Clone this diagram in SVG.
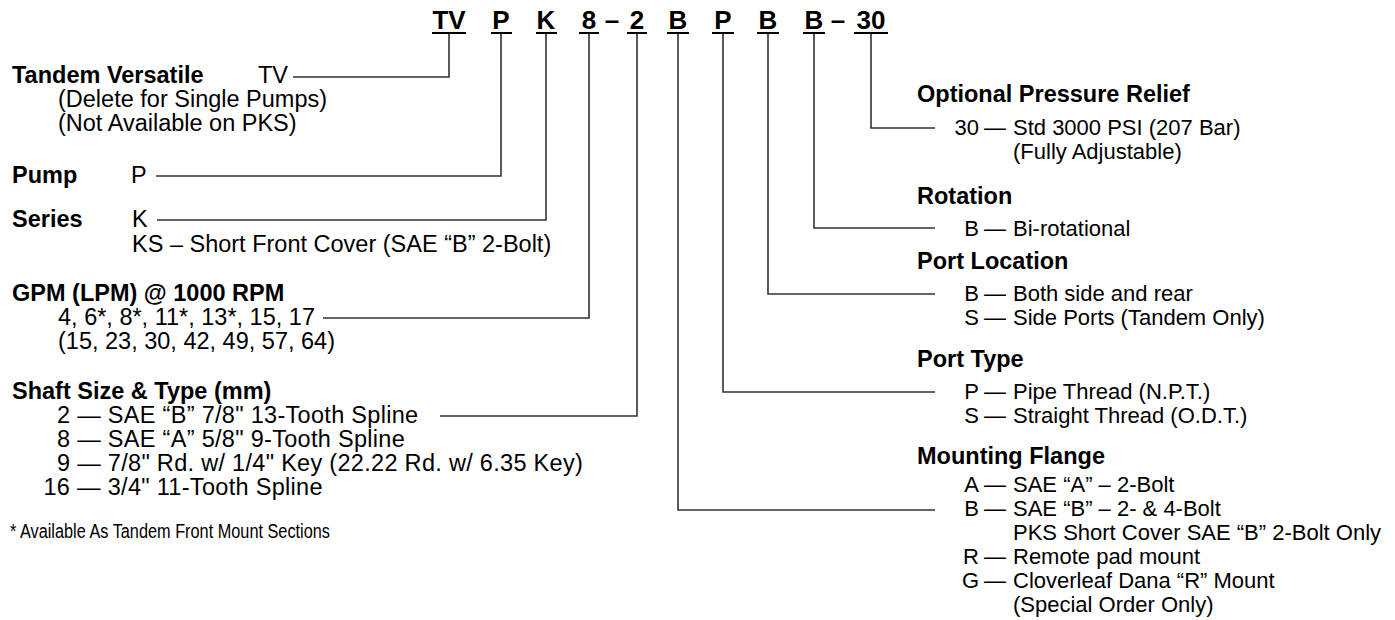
<svg xmlns="http://www.w3.org/2000/svg" width="1395" height="620" viewBox="0 0 1395 620">
<style>
text{font-family:"Liberation Sans",Arial,Helvetica,sans-serif;fill:#000}
.h{font-size:26px;font-weight:bold;text-anchor:middle}
.b{font-size:23.5px;font-weight:bold}
.r{font-size:23.5px}
.s{font-size:23.5px;letter-spacing:0.3px}
.rr{font-size:22px}
.k{font-size:22px;text-anchor:end}
.fn{font-size:20px}
.ul{stroke:#000;stroke-width:2}
.ln{stroke:#333;stroke-width:1.6;fill:none}
</style>
<rect width="1395" height="620" fill="#fff"/>
<g id="code">
<text class="h" x="449" y="29">TV</text>
<text class="h" x="501" y="29">P</text>
<text class="h" x="546" y="29">K</text>
<text class="h" x="589" y="29">8</text>
<text class="h" x="612" y="29">–</text>
<text class="h" x="637" y="29">2</text>
<text class="h" x="678" y="29">B</text>
<text class="h" x="723" y="29">P</text>
<text class="h" x="768" y="29">B</text>
<text class="h" x="814" y="29">B</text>
<text class="h" x="838" y="29">–</text>
<text class="h" x="871" y="29">30</text>
<path class="ul" d="M432 33H466M491 33H512M536 33H557M579 33H599M627 33H647M667 33H689M712 33H734M757 33H779M803 33H825M854 33H888"/>
</g>
<g id="connectors">
<path class="ln" d="M449 34V77H293"/>
<path class="ln" d="M501 34V176H156"/>
<path class="ln" d="M546 34V220H157"/>
<path class="ln" d="M589 34V318H323"/>
<path class="ln" d="M637 34V416H440"/>
<path class="ln" d="M678 34V510H935"/>
<path class="ln" d="M723 34V392H935"/>
<path class="ln" d="M768 34V294H935"/>
<path class="ln" d="M814 34V228H935"/>
<path class="ln" d="M871 34V128H935"/>
</g>
<g id="tandem">
<text class="b" x="12" y="83">Tandem Versatile</text>
<text class="r" x="258" y="83">TV</text>
<text class="r" x="58" y="107">(Delete for Single Pumps)</text>
<text class="r" x="58" y="131">(Not Available on PKS)</text>
</g>
<g id="pump">
<text class="b" x="12" y="183">Pump</text>
<text class="r" x="131" y="183">P</text>
</g>
<g id="series">
<text class="b" x="12" y="227">Series</text>
<text class="r" x="132" y="227">K</text>
<text class="r" x="132" y="252">KS – Short Front Cover (SAE “B” 2-Bolt)</text>
</g>
<g id="gpm">
<text class="b" x="12" y="301">GPM (LPM) @ 1000 RPM</text>
<text class="r" x="58" y="325">4, 6*, 8*, 11*, 13*, 15, 17</text>
<text class="r" x="58" y="349">(15, 23, 30, 42, 49, 57, 64)</text>
</g>
<g id="shaft">
<text class="b" x="12" y="399">Shaft Size &amp; Type (mm)</text>
<text class="s" x="57" y="423">2 — SAE “B” 7/8" 13-Tooth Spline</text>
<text class="s" x="57" y="447">8 — SAE “A” 5/8" 9-Tooth Spline</text>
<text class="s" x="57" y="471">9 — 7/8" Rd. w/ 1/4" Key (22.22 Rd. w/ 6.35 Key)</text>
<text class="s" x="43.5" y="495">16 — 3/4" 11-Tooth Spline</text>
</g>
<g id="footnote">
<text class="fn" x="10" y="538" textLength="320" lengthAdjust="spacingAndGlyphs">* Available As Tandem Front Mount Sections</text>
</g>
<g id="relief">
<text class="b" x="917" y="102">Optional Pressure Relief</text>
<text class="k" x="979" y="135">30</text>
<text class="rr" x="984" y="135">—</text>
<text class="rr" x="1013" y="135">Std 3000 PSI (207 Bar)</text>
<text class="rr" x="1013" y="159">(Fully Adjustable)</text>
</g>
<g id="rotation">
<text class="b" x="917" y="204">Rotation</text>
<text class="k" x="979" y="236">B</text>
<text class="rr" x="984" y="236">—</text>
<text class="rr" x="1013" y="236">Bi-rotational</text>
</g>
<g id="port-location">
<text class="b" x="917" y="269">Port Location</text>
<text class="k" x="979" y="301">B</text>
<text class="rr" x="984" y="301">—</text>
<text class="rr" x="1013" y="301">Both side and rear</text>
<text class="k" x="979" y="325">S</text>
<text class="rr" x="984" y="325">—</text>
<text class="rr" x="1013" y="325">Side Ports (Tandem Only)</text>
</g>
<g id="port-type">
<text class="b" x="917" y="367">Port Type</text>
<text class="k" x="979" y="399">P</text>
<text class="rr" x="984" y="399">—</text>
<text class="rr" x="1013" y="399">Pipe Thread (N.P.T.)</text>
<text class="k" x="979" y="423">S</text>
<text class="rr" x="984" y="423">—</text>
<text class="rr" x="1013" y="423">Straight Thread (O.D.T.)</text>
</g>
<g id="mounting-flange">
<text class="b" x="917" y="464">Mounting Flange</text>
<text class="k" x="979" y="492">A</text>
<text class="rr" x="984" y="492">—</text>
<text class="rr" x="1013" y="492">SAE “A” – 2-Bolt</text>
<text class="k" x="979" y="516">B</text>
<text class="rr" x="984" y="516">—</text>
<text class="rr" x="1013" y="516">SAE “B” – 2- &amp; 4-Bolt</text>
<text class="rr" x="1013" y="540">PKS Short Cover SAE “B” 2-Bolt Only</text>
<text class="k" x="979" y="564">R</text>
<text class="rr" x="984" y="564">—</text>
<text class="rr" x="1013" y="564">Remote pad mount</text>
<text class="k" x="979" y="588">G</text>
<text class="rr" x="984" y="588">—</text>
<text class="rr" x="1013" y="588">Cloverleaf Dana “R” Mount</text>
<text class="rr" x="1013" y="612">(Special Order Only)</text>
</g>
</svg>
